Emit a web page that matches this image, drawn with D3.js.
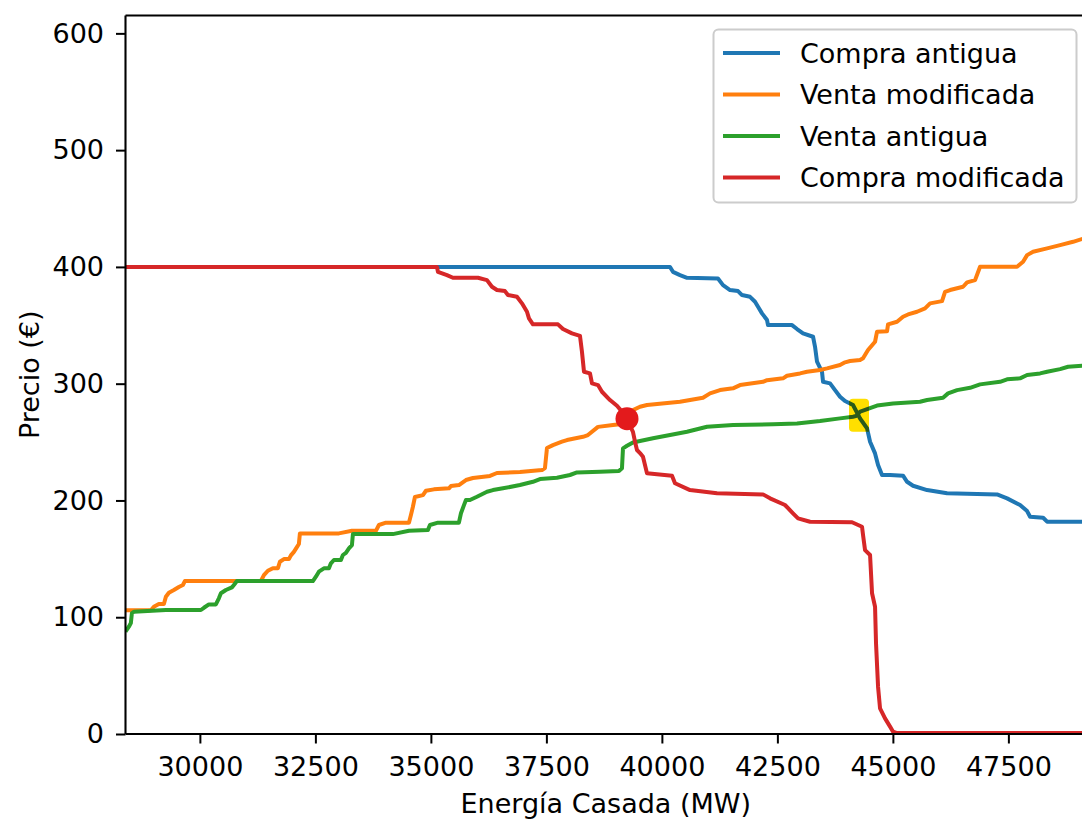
<!DOCTYPE html>
<html>
<head>
<meta charset="utf-8">
<script src="https://cdn.jsdelivr.net/npm/d3@7"></script>
<style>
  html, body { margin: 0; padding: 0; background: #fff; }
  svg { display: block; }
  text { font-family: "DejaVu Sans", sans-serif; fill: #000; }
</style>
</head>
<body>
<svg id="chart" width="1082" height="821"></svg>
<script>
// ---------------- DATA ----------------
const seriesNames = ["Compra antigua", "Venta modificada", "Venta antigua", "Compra modificada"];
const seriesColors = ["#1f77b4", "#ff7f0e", "#2ca02c", "#d62728"];

const xTicks = [30000, 32500, 35000, 37500, 40000, 42500, 45000, 47500];
const yTicks = [0, 100, 200, 300, 400, 500, 600];

// Compra antigua (blue)
const compraAntigua = [
  [28390,400],[40176,400],[40240,395.8],[40392,393],[40544,390.7],[41214,390],[41323,384.4],
  [41475,380.2],[41648,379.3],[41734,375.9],[41908,374.4],[42016,370.2],[42081,365.9],[42167,360.2],
  [42276,354.5],[42297,350.2],[42817,350.2],[42925,346.8],[43055,343.1],[43272,340.2],[43315,331.6],
  [43358,318.8],[43466,310.2],[43488,301.6],[43640,300.3],[43748,294.5],[43856,288.8],[43964,285.1],
  [44137,281.7],[44289,270.3],[44441,261.7],[44506,250.3],[44614,240.3],[44679,230.3],[44765,221.8],
  [44939,221.8],[45220,221.2],[45307,216],[45436,212.6],[45740,208.9],[46173,206.1],[47255,205.2],
  [47472,201.8],[47753,196.1],[47905,190.9],[47970,186],[48252,185.2],[48338,181.8],[49180,181.8]
];

// Venta modificada (orange)
const ventaModificada = [
  [28390,106],[28939,106],[29004,109],[29112,111.3],[29221,111.3],[29264,117.6],[29329,121],
  [29437,123.3],[29545,125.9],[29632,127.6],[29675,131],[31321,131],[31386,136],[31472,139.8],
  [31580,142],[31689,142],[31732,147.5],[31819,149.8],[31927,149.8],[31970,153],[32035,156],
  [32100,160],[32143,162.7],[32165,171.8],[33009,171.8],[33291,174],[33810,174],[33875,179],
  [34027,181],[34525,181],[34568,187.5],[34611,194.6],[34655,203],[34828,204.6],[34893,208.3],
  [35066,209.5],[35391,210.4],[35434,212.3],[35607,213.2],[35759,217.5],[35910,219.2],[36279,221],
  [36430,223.5],[36928,224.3],[37404,226],[37469,227.7],[37513,244.9],[37642,247.4],[37837,250.3],
  [37946,251.7],[38292,254.5],[38400,256],[38617,263],[38941,264.6],[39136,265.4],[39266,268.8],
  [39374,277.4],[39526,280.2],[39678,281.7],[40392,284.5],[40890,288],[41042,291.7],[41258,294.5],
  [41540,296],[41691,298.8],[42189,301.6],[42276,303],[42622,304.6],[42709,306.8],[42990,308.8],
  [43142,310.2],[43423,311.7],[43575,313.1],[43856,316],[43964,318.3],[44073,319.4],[44289,320.2],
  [44354,321.7],[44462,328.8],[44614,335.9],[44657,344.5],[44874,345],[44895,350.8],[45090,353],
  [45220,357.3],[45328,359.3],[45523,361.6],[45696,364.5],[45805,368.8],[46064,370.7],[46129,378.7],
  [46238,380.2],[46519,383],[46606,386.7],[46779,388.7],[46887,400.1],[47688,400.1],[47818,404.4],
  [47905,410.1],[48034,413],[48338,415.9],[48619,418.7],[48900,421.5],[49180,425]
];

// Venta antigua (green)
const ventaAntigua = [
  [28390,87.6],[28463,91.9],[28506,95],[28528,103.3],[28571,104.7],[29264,106.2],[30022,106.2],
  [30087,108.1],[30195,111],[30346,111],[30411,116.2],[30455,120.5],[30563,123.3],[30693,125.6],
  [30736,127.6],[30801,131],[32446,131],[32511,134.7],[32576,139],[32685,141.9],[32793,141.9],
  [32836,146.2],[32901,149],[33053,149],[33096,153.3],[33161,155.2],[33226,159],[33291,161.8],
  [33312,171.2],[34178,171.2],[34525,174],[34936,174.7],[34980,179],[35153,181],[35607,181],
  [35651,189],[35716,196],[35759,200.4],[35846,200.4],[35997,203.2],[36214,207.5],[36343,208.9],
  [36560,210.4],[36928,213.2],[37209,216],[37361,218.3],[37729,219.4],[38011,221.8],[38162,224],
  [38660,224.6],[39071,225.2],[39136,227.5],[39158,244.6],[39245,246.8],[39374,249.7],[39807,253.2],
  [40176,256],[40544,258.8],[40977,263.1],[41540,264.6],[42405,265.2],[42925,266],[43423,268],
  [43856,270.3],[44137,271.7],[44203,272.3],[44290,276],[44657,281.3],[45003,283.1],[45588,284.5],
  [45740,286],[46086,288],[46194,291.7],[46389,294.5],[46671,296.5],[46887,299.4],[47320,301.6],
  [47472,303.7],[47753,304.6],[47905,307.4],[48186,308.8],[48338,310.2],[48619,312.5],[48792,314.5],
  [49180,315.5]
];

// Compra modificada (red)
const compraModificada = [
  [28390,400],[35131,400],[35153,395.8],[35348,393],[35477,390.7],[36019,390.7],[36214,388.7],
  [36322,383],[36430,380.2],[36603,379.3],[36668,375.9],[36863,374.4],[36971,368.8],[37080,361.6],
  [37123,355.9],[37209,350.8],[37751,350.8],[37859,346.8],[38054,343.1],[38227,341],[38270,327.3],
  [38314,310.2],[38444,308.8],[38487,300.3],[38617,298.8],[38703,293.1],[38877,286],[39028,281.1],
  [39201,273.1],[39374,258.8],[39418,250.3],[39461,243.2],[39526,240.6],[39591,237.4],[39678,223.2],
  [40219,221.2],[40284,214.7],[40609,208.9],[41193,206.1],[42189,205.2],[42341,201.8],[42665,196.1],
  [42838,189],[42947,184.7],[43207,181.8],[44116,181.3],[44332,177.5],[44354,170.4],[44397,157.5],
  [44506,153.3],[44549,120.5],[44614,109],[44635,77.7],[44679,40.5],[44722,22],[44830,13.4],
  [44939,6.3],[45004,2],[45090,0.8],[49180,0.8]
];

// Intersection markers
const puntoModificado = [39245, 270];   // red circle
const puntoAntiguo = [44267, 273];      // yellow marker

const xDomain = [28390, 49180];
const yDomain = [0, 615.3];

// ---------------- CHART ----------------
const svg = d3.select("#chart");
const L = 125.5, R = 1086, T = 15.5, B = 734;
const FS = 27;

const x = d3.scaleLinear().domain(xDomain).range([L, R]);
const y = d3.scaleLinear().domain(yDomain).range([B, T]);

svg.append("defs").append("clipPath").attr("id", "plotclip")
  .append("rect").attr("x", L).attr("y", T).attr("width", R - L).attr("height", B - T);

const plot = svg.append("g").attr("clip-path", "url(#plotclip)");
const line = d3.line().x(d => x(d[0])).y(d => y(d[1]));

const allSeries = [compraAntigua, ventaModificada, ventaAntigua, compraModificada];
allSeries.forEach((s, i) => {
  plot.append("path").datum(s)
    .attr("d", line)
    .attr("fill", "none")
    .attr("stroke", seriesColors[i])
    .attr("stroke-width", 4)
    .attr("stroke-linejoin", "round")
    .attr("stroke-linecap", "butt");
});

// red marker
plot.append("circle")
  .attr("cx", x(puntoModificado[0])).attr("cy", y(puntoModificado[1]))
  .attr("r", 11.5).attr("fill", "#e31a1c");

// yellow marker
const mw = 20, mh = 33;
const mx = x(puntoAntiguo[0]), my = y(puntoAntiguo[1]);
plot.append("rect")
  .attr("x", mx - mw / 2).attr("y", my - mh / 2)
  .attr("width", mw).attr("height", mh).attr("rx", 4)
  .attr("fill", "#ffdf00");

// dark crossing inside yellow marker
const defs = svg.select("defs");
defs.append("clipPath").attr("id", "markclip")
  .append("rect").attr("x", mx - mw / 2).attr("y", my - mh / 2)
  .attr("width", mw).attr("height", mh);
const mk = svg.append("g").attr("clip-path", "url(#markclip)");
[compraAntigua, ventaAntigua].forEach(s => {
  mk.append("path").datum(s).attr("d", line)
    .attr("fill", "none").attr("stroke", "#2a5a1a").attr("stroke-width", 4);
});

// axes
const xAxis = d3.axisBottom(x).tickValues(xTicks).tickSize(9.5).tickPadding(13).tickFormat(d3.format("d"));
const yAxis = d3.axisLeft(y).tickValues(yTicks).tickSize(9.5).tickPadding(12).tickFormat(d3.format("d"));

const gx = svg.append("g").attr("transform", `translate(0,${B})`).call(xAxis);
const gy = svg.append("g").attr("transform", `translate(${L},0)`).call(yAxis);
[gx, gy].forEach(g => {
  g.select(".domain").remove();
  g.selectAll(".tick line").attr("stroke", "#000").attr("stroke-width", 2);
  g.selectAll(".tick text").attr("font-family", "DejaVu Sans").attr("font-size", FS).attr("fill", "#000");
});

// spines
const sp = svg.append("g").attr("stroke", "#000").attr("stroke-width", 2.1).attr("fill", "none");
sp.append("line").attr("x1", L).attr("x2", L).attr("y1", T).attr("y2", B);
sp.append("line").attr("x1", L).attr("x2", R).attr("y1", B).attr("y2", B);
sp.append("line").attr("x1", L).attr("x2", R).attr("y1", T).attr("y2", T);
sp.append("line").attr("x1", R).attr("x2", R).attr("y1", T).attr("y2", B);

// axis labels
svg.append("text")
  .attr("x", (L + R) / 2).attr("y", 813)
  .attr("text-anchor", "middle").attr("font-size", FS)
  .text("Energía Casada (MW)");
svg.append("text")
  .attr("transform", `translate(29,${(T + B) / 2}) rotate(-90)`)
  .attr("text-anchor", "middle").attr("dominant-baseline", "central").attr("font-size", FS)
  .text("Precio (€)");

// legend
const lg = svg.append("g");
lg.append("rect")
  .attr("x", 713.5).attr("y", 29.5).attr("width", 363).attr("height", 173).attr("rx", 5)
  .attr("fill", "rgba(255,255,255,0.8)").attr("stroke", "#cccccc").attr("stroke-width", 2);
const rowY = [53, 94.5, 136, 177.5];
seriesNames.forEach((name, i) => {
  lg.append("line").attr("x1", 723).attr("x2", 780).attr("y1", rowY[i]).attr("y2", rowY[i])
    .attr("stroke", seriesColors[i]).attr("stroke-width", 4);
  lg.append("text").attr("x", 800).attr("y", rowY[i])
    .attr("dominant-baseline", "central").attr("font-size", FS)
    .text(name);
});
</script>
</body>
</html>
